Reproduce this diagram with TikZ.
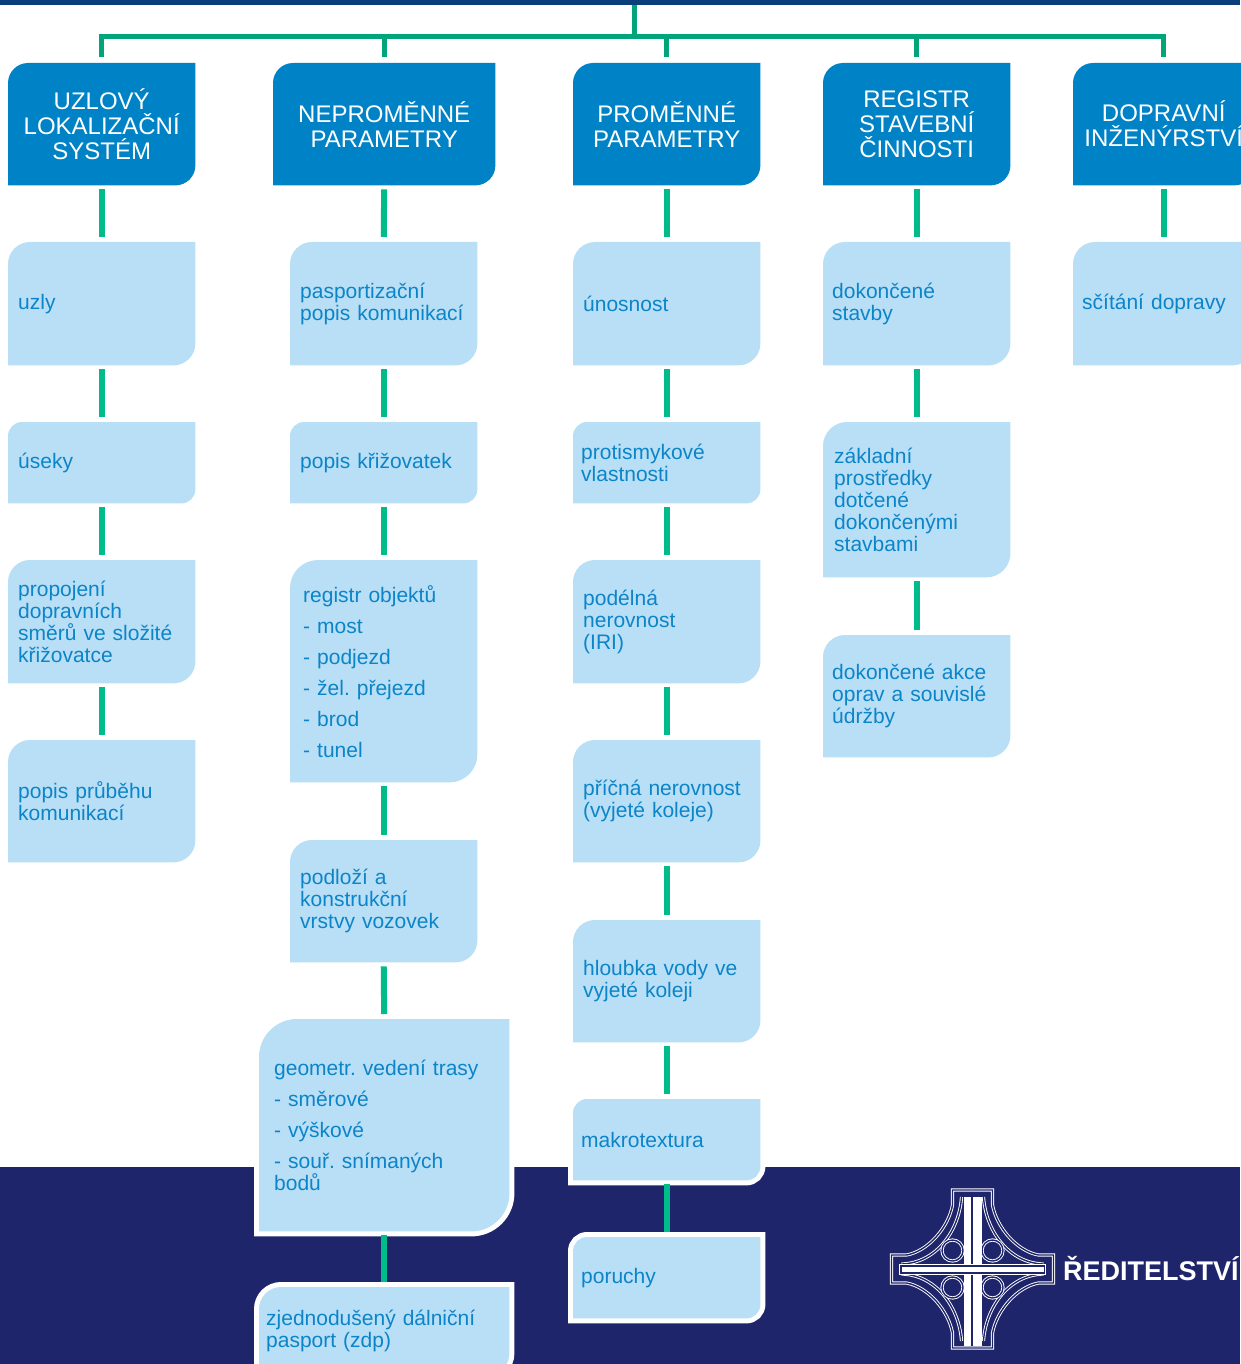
\documentclass[tikz,border=0pt]{standalone}
\usepackage{fontspec}
\setmainfont{Liberation Sans}
\usetikzlibrary{backgrounds}
\frenchspacing

\definecolor{topbar}{RGB}{10,63,122}
\definecolor{navy}{RGB}{31,37,107}
\definecolor{headblue}{RGB}{0,130,198}
\definecolor{lightblue}{RGB}{184,223,246}
\definecolor{textblue}{RGB}{12,132,200}
\definecolor{busgreen}{RGB}{0,165,122}
\definecolor{linkgreen}{RGB}{0,187,138}

\tikzset{
headbox/.style={rectangle,anchor=north west,inner sep=0pt,minimum width=187pt,minimum height=122pt,align=center,text=white,font=\fontsize{24}{25}\selectfont},
leafbox/.style={rectangle,anchor=north west,inner xsep=10pt,inner ysep=0pt,minimum width=187pt,minimum height=123pt,text width=167pt,align=left,text=textblue,font=\fontsize{21}{22}\selectfont},
bus/.style={draw=busgreen,line width=5pt},
logoline/.style={draw=white,line width=0.9pt,double=navy,double distance=1.4pt}
}

\begin{document}
\begin{tikzpicture}[x=1pt,y=-1pt]
\useasboundingbox (0,0) rectangle (1240,1364);

\begin{scope}[every node/.style={headbox}]
\node (uzlovy) at (8,63) {UZLOVÝ\\LOKALIZAČNÍ\\SYSTÉM};
\node[minimum width=222pt] (nepromenne) at (273,63) {NEPROMĚNNÉ\\PARAMETRY};
\node (promenne) at (573,63) {PROMĚNNÉ\\PARAMETRY};
\node (registr) at (823,63) {REGISTR\\STAVEBNÍ\\ČINNOSTI};
\node[minimum width=181pt] (dopravni) at (1073,63) {DOPRAVNÍ\\INŽENÝRSTVÍ};
\end{scope}

\begin{scope}[every node/.style={leafbox}]
% uzlovy lokalizacni system
\node (uzly) at (8,242) {uzly};
\node[minimum height=81pt] (useky) at (8,422) {úseky};
\node (propojeni) at (8,560) {propojení\\dopravních\\směrů ve složité\\křižovatce};
\node[minimum height=122pt] (prubeh) at (8,740) {popis průběhu\\komunikací};
% nepromenne parametry
\node (pasport) at (290,242) {pasportizační\\popis komunikací};
\node[minimum height=81pt] (krizovatky) at (290,422) {popis křižovatek};
\node[minimum height=222pt,inner xsep=13pt,text width=161pt] (objekty) at (290,560) {registr objektů\\[9pt]- most\\[9pt]- podjezd\\[9pt]- žel. přejezd\\[9pt]- brod\\[9pt]- tunel};
\node[minimum height=122pt] (podlozi) at (290,840) {podloží a\\konstrukční\\vrstvy vozovek};
\node[minimum width=250pt,minimum height=212pt,inner xsep=15pt,text width=220pt] (geometrie) at (259,1019) {geometr. vedení trasy\\[9pt]- směrové\\[9pt]- výškové\\[9pt]- souř. snímaných\\bodů};
\node[minimum width=250pt,minimum height=88pt,inner xsep=7pt,text width=236pt] (zdp) at (259,1287) {zjednodušený dálniční\\pasport (zdp)};
% promenne parametry
\node (unosnost) at (573,242) {únosnost};
\node[minimum height=81pt,inner xsep=8pt,text width=171pt] (protismyk) at (573,422) {protismykové\\vlastnosti};
\node (iri) at (573,560) {podélná\\nerovnost\\(IRI)};
\node[minimum height=122pt] (pricna) at (573,740) {příčná nerovnost\\(vyjeté koleje)};
\node[minimum height=122pt] (hloubka) at (573,920) {hloubka vody ve\\vyjeté koleji};
\node[minimum height=81pt,inner xsep=8pt,text width=171pt] (makro) at (573,1099) {makrotextura};
\node[minimum height=81pt,inner xsep=8pt,text width=171pt] (poruchy) at (573,1237) {poruchy};
% registr stavebni cinnosti
\node[inner xsep=9pt,text width=169pt] (stavby) at (823,242) {dokončené\\stavby};
\node[minimum height=155pt,inner xsep=11pt,text width=165pt] (prostredky) at (823,422) {základní\\prostředky\\dotčené\\dokončenými\\stavbami};
\node[minimum height=122pt,inner xsep=9pt,text width=169pt] (akce) at (823,635) {dokončené akce\\oprav a souvislé\\údržby};
% dopravni inzenyrstvi
\node[minimum width=181pt,inner xsep=9pt,text width=163pt] (scitani) at (1073,242) {sčítání dopravy};
\end{scope}

\begin{pgfonlayer}{background}
\fill[navy] (0,1167) rectangle (1240,1364);
\fill[topbar] (0,0) rectangle (1240,5);
\foreach \nm/\rad in {uzlovy/20,nepromenne/20,promenne/20,registr/20,dopravni/20}{
  \pgfmathsetmacro\kk{0.45*\rad}
  \fill[headblue] ([yshift=-\rad pt]\nm.north west) .. controls ([yshift=-\kk pt]\nm.north west) and ([xshift=\kk pt]\nm.north west) .. ([xshift=\rad pt]\nm.north west)
    -- (\nm.north east) -- ([yshift=\rad pt]\nm.south east)
    .. controls ([yshift=\kk pt]\nm.south east) and ([xshift=-\kk pt]\nm.south east) .. ([xshift=-\rad pt]\nm.south east)
    -- (\nm.south west) -- cycle;
}
\foreach \nm/\rad in {uzly/22,useky/14,propojeni/22,prubeh/22,pasport/22,krizovatky/14,objekty/28,podlozi/22,geometrie/38,zdp/22,unosnost/22,protismyk/14,iri/22,pricna/22,hloubka/22,makro/14,poruchy/14,stavby/22,prostredky/24,akce/22,scitani/22}{
  \pgfmathsetmacro\kk{0.45*\rad}
  \fill[lightblue,preaction={draw=white,line width=10pt}] ([yshift=-\rad pt]\nm.north west) .. controls ([yshift=-\kk pt]\nm.north west) and ([xshift=\kk pt]\nm.north west) .. ([xshift=\rad pt]\nm.north west)
    -- (\nm.north east) -- ([yshift=\rad pt]\nm.south east)
    .. controls ([yshift=\kk pt]\nm.south east) and ([xshift=-\kk pt]\nm.south east) .. ([xshift=-\rad pt]\nm.south east)
    -- (\nm.south west) -- cycle;
}
\end{pgfonlayer}

% sbernice
\coordinate (top) at (634,5);
\coordinate (hub) at (634,37);
\draw[bus] (top) -- (hub);
\draw[bus,shorten <=6pt,shorten >=6pt] (uzlovy.north) |- (hub) -| (dopravni.north);
\draw[bus,shorten >=6pt] (hub -| nepromenne.north) -- (nepromenne.north);
\draw[bus,shorten >=6pt] (hub -| promenne.north) -- (promenne.north);
\draw[bus,shorten >=6pt] (hub -| registr.north) -- (registr.north);

\begin{scope}[every edge/.style={draw=linkgreen,line width=6pt,shorten <=4pt,shorten >=5pt}]
\path (uzlovy.south) edge (uzly.north);
\path (uzly.south) edge (useky.north);
\path (useky.south) edge (propojeni.north);
\path (propojeni.south) edge (prubeh.north);
\path (nepromenne.south) edge (pasport.north);
\path (pasport.south) edge (krizovatky.north);
\path (krizovatky.south) edge (objekty.north);
\path (objekty.south) edge (podlozi.north);
\path (podlozi.south) edge (geometrie.north);
\path (geometrie.south) edge (zdp.north);
\path (promenne.south) edge (unosnost.north);
\path (unosnost.south) edge (protismyk.north);
\path (protismyk.south) edge (iri.north);
\path (iri.south) edge (pricna.north);
\path (pricna.south) edge (hloubka.north);
\path (hloubka.south) edge (makro.north);
\path (makro.south) edge (poruchy.north);
\path (registr.south) edge (stavby.north);
\path (stavby.south) edge (prostredky.north);
\path (prostredky.south) edge (akce.north);
\path (dopravni.south) edge (scitani.north);
\end{scope}

% logo
\begin{scope}[shift={(972.5,1269)}]
\foreach \sx/\sy in {1/1,-1/1,1/-1,-1/-1}{
  \begin{scope}[xscale=\sx,yscale=\sy]
  \draw[logoline] (0,-79) -- (20,-79) -- (20,-64) .. controls (24,-42) and (44,-18) .. (66,-14) -- (81,-14) -- (81,0);
  \draw[logoline] (11,-72) .. controls (13,-40) and (35,-6) .. (71,-5);
  \draw[logoline] (20,-18.5) circle (10.5pt);
  \end{scope}
}
\fill[white] (-8.5,-72) rectangle (-1.5,77);
\fill[white] (0.5,-72) rectangle (9.5,77);
\filldraw[fill=white,draw=navy,line width=2pt] (-72,-3.5) rectangle (72,3.5);
\draw[white,line width=0.8pt] (-73,-5) rectangle (73,5);
\end{scope}
\node[anchor=base west,inner sep=0pt,text=white,font=\bfseries\fontsize{27}{29}\selectfont] (rsd) at (1063,1280) {ŘEDITELSTVÍ};
\end{tikzpicture}
\end{document}
